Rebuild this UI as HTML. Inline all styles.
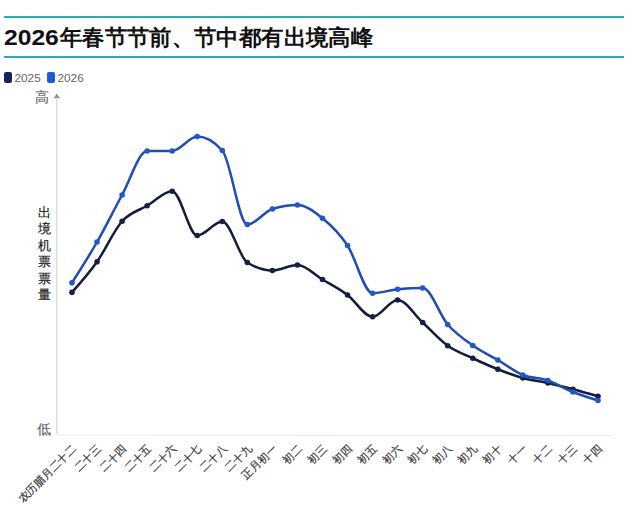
<!DOCTYPE html>
<html><head><meta charset="utf-8"><style>
html,body{margin:0;padding:0;background:#fff;width:640px;height:511px;overflow:hidden;position:relative;font-family:"Liberation Sans",sans-serif}
.tl{position:absolute;left:4px;width:620px;height:2.6px;background:#2cabb1}
.title{position:absolute;top:22.5px;font-weight:bold;color:#111;white-space:nowrap;line-height:30px}
.t1{left:4px;font-size:22px;transform:scaleX(1.12);transform-origin:0 0}
.t2{left:59.5px;font-size:22px;transform:scaleX(1.016);transform-origin:0 0}
.lg{position:absolute;top:71px;font-size:11.8px;color:#666;line-height:14px}
.sw{position:absolute;top:72px;width:8px;height:10.5px;border-radius:2px}
.yl{position:absolute;font-size:14px;color:#666;line-height:16px;-webkit-text-stroke:0.15px #666}
.ax{position:absolute;left:36px;top:205px;width:16px;font-size:13px;color:#222;line-height:16.4px;text-align:center;-webkit-text-stroke:0.2px #222}
text{font-family:"Liberation Sans",sans-serif}
</style></head><body>
<div class="tl" style="top:15.6px"></div>
<div class="tl" style="top:55.8px"></div>
<div class="title t1">2026</div><div class="title t2">年春节节前、节中都有出境高峰</div>
<div class="sw" style="left:4px;background:#13245a"></div>
<div class="lg" style="left:14.5px">2025</div>
<div class="sw" style="left:47px;background:#1a5cd8"></div>
<div class="lg" style="left:57.5px">2026</div>
<div class="yl" style="left:35px;top:88.5px">高</div>
<div class="yl" style="left:37px;top:421px">低</div>
<div class="ax">出<br>境<br>机<br>票<br>票<br>量</div>
<svg width="640" height="511" viewBox="0 0 640 511" style="position:absolute;left:0;top:0">
<line x1="56.8" y1="96" x2="56.8" y2="434" stroke="#d9d9d9" stroke-width="1.3"/>
<path d="M56.8,93.5 L60.2,99 L56.8,97.6 L53.4,99 Z" fill="#888"/>
<line x1="57" y1="435" x2="612" y2="435.5" stroke="#e8e8e8" stroke-width="1"/>
<path d="M72.00,292.30 C80.35,282.92 88.70,273.54 97.05,261.70 C105.40,249.86 113.75,230.57 122.10,221.25 C130.44,211.93 138.79,210.75 147.14,205.75 C155.49,200.75 163.84,191.25 172.19,191.25 C180.54,191.25 188.89,235.50 197.24,235.50 C205.59,235.50 213.94,221.50 222.29,221.50 C230.63,221.50 238.98,257.17 247.33,262.50 C255.68,267.83 264.03,270.50 272.38,270.50 C280.73,270.50 289.08,265.00 297.43,265.00 C305.78,265.00 314.13,274.50 322.48,279.50 C330.83,284.50 339.17,288.79 347.52,295.00 C355.87,301.21 364.22,316.75 372.57,316.75 C380.92,316.75 389.27,300.00 397.62,300.00 C405.97,300.00 414.32,314.88 422.67,322.50 C431.02,330.12 439.37,339.79 447.71,345.75 C456.06,351.71 464.41,354.33 472.76,358.25 C481.11,362.17 489.46,365.96 497.81,369.25 C506.16,372.54 514.51,375.71 522.86,378.00 C531.21,380.29 539.56,381.12 547.90,383.00 C556.25,384.88 564.60,387.04 572.95,389.25 C581.30,391.46 589.65,393.85 598.00,396.25" fill="none" stroke="#131c3c" stroke-width="2.5" stroke-linejoin="round"/>
<circle cx="72.00" cy="292.30" r="2.8" fill="#152046"/>
<circle cx="97.05" cy="261.70" r="2.8" fill="#152046"/>
<circle cx="122.10" cy="221.25" r="2.8" fill="#152046"/>
<circle cx="147.14" cy="205.75" r="2.8" fill="#152046"/>
<circle cx="172.19" cy="191.25" r="2.8" fill="#152046"/>
<circle cx="197.24" cy="235.50" r="2.8" fill="#152046"/>
<circle cx="222.29" cy="221.50" r="2.8" fill="#152046"/>
<circle cx="247.33" cy="262.50" r="2.8" fill="#152046"/>
<circle cx="272.38" cy="270.50" r="2.8" fill="#152046"/>
<circle cx="297.43" cy="265.00" r="2.8" fill="#152046"/>
<circle cx="322.48" cy="279.50" r="2.8" fill="#152046"/>
<circle cx="347.52" cy="295.00" r="2.8" fill="#152046"/>
<circle cx="372.57" cy="316.75" r="2.8" fill="#152046"/>
<circle cx="397.62" cy="300.00" r="2.8" fill="#152046"/>
<circle cx="422.67" cy="322.50" r="2.8" fill="#152046"/>
<circle cx="447.71" cy="345.75" r="2.8" fill="#152046"/>
<circle cx="472.76" cy="358.25" r="2.8" fill="#152046"/>
<circle cx="497.81" cy="369.25" r="2.8" fill="#152046"/>
<circle cx="522.86" cy="378.00" r="2.8" fill="#152046"/>
<circle cx="547.90" cy="383.00" r="2.8" fill="#152046"/>
<circle cx="572.95" cy="389.25" r="2.8" fill="#152046"/>
<circle cx="598.00" cy="396.25" r="2.8" fill="#152046"/>
<path d="M72.00,282.70 C80.35,269.66 88.70,256.62 97.05,242.00 C105.40,227.38 113.75,210.17 122.10,195.00 C130.44,179.83 138.79,151.00 147.14,151.00 C155.49,151.00 163.84,151.00 172.19,151.00 C180.54,151.00 188.89,136.50 197.24,136.50 C205.59,136.50 213.94,141.17 222.29,150.50 C230.63,159.83 238.98,224.50 247.33,224.50 C255.68,224.50 264.03,211.67 272.38,209.00 C280.73,206.33 289.08,205.00 297.43,205.00 C305.78,205.00 314.13,211.50 322.48,218.25 C330.83,225.00 339.17,233.00 347.52,245.50 C355.87,258.00 364.22,293.25 372.57,293.25 C380.92,293.25 389.27,290.08 397.62,289.25 C405.97,288.42 414.32,288.00 422.67,288.00 C431.02,288.00 439.37,314.92 447.71,324.50 C456.06,334.08 464.41,339.58 472.76,345.50 C481.11,351.42 489.46,355.08 497.81,360.00 C506.16,364.92 514.51,371.58 522.86,375.00 C531.21,378.42 539.56,377.67 547.90,380.50 C556.25,383.33 564.60,388.67 572.95,392.00 C581.30,395.33 589.65,397.92 598.00,400.50" fill="none" stroke="#1f4db2" stroke-width="2.5" stroke-linejoin="round"/>
<circle cx="72.00" cy="282.70" r="2.8" fill="#2456c4"/>
<circle cx="97.05" cy="242.00" r="2.8" fill="#2456c4"/>
<circle cx="122.10" cy="195.00" r="2.8" fill="#2456c4"/>
<circle cx="147.14" cy="151.00" r="2.8" fill="#2456c4"/>
<circle cx="172.19" cy="151.00" r="2.8" fill="#2456c4"/>
<circle cx="197.24" cy="136.50" r="2.8" fill="#2456c4"/>
<circle cx="222.29" cy="150.50" r="2.8" fill="#2456c4"/>
<circle cx="247.33" cy="224.50" r="2.8" fill="#2456c4"/>
<circle cx="272.38" cy="209.00" r="2.8" fill="#2456c4"/>
<circle cx="297.43" cy="205.00" r="2.8" fill="#2456c4"/>
<circle cx="322.48" cy="218.25" r="2.8" fill="#2456c4"/>
<circle cx="347.52" cy="245.50" r="2.8" fill="#2456c4"/>
<circle cx="372.57" cy="293.25" r="2.8" fill="#2456c4"/>
<circle cx="397.62" cy="289.25" r="2.8" fill="#2456c4"/>
<circle cx="422.67" cy="288.00" r="2.8" fill="#2456c4"/>
<circle cx="447.71" cy="324.50" r="2.8" fill="#2456c4"/>
<circle cx="472.76" cy="345.50" r="2.8" fill="#2456c4"/>
<circle cx="497.81" cy="360.00" r="2.8" fill="#2456c4"/>
<circle cx="522.86" cy="375.00" r="2.8" fill="#2456c4"/>
<circle cx="547.90" cy="380.50" r="2.8" fill="#2456c4"/>
<circle cx="572.95" cy="392.00" r="2.8" fill="#2456c4"/>
<circle cx="598.00" cy="400.50" r="2.8" fill="#2456c4"/>
<text x="0" y="0" transform="translate(77.00,449) rotate(-45)" text-anchor="end" font-size="11" fill="#3a3a3a" stroke="#3a3a3a" stroke-width="0.2">农历腊月二十二</text>
<text x="0" y="0" transform="translate(102.05,449) rotate(-45)" text-anchor="end" font-size="11" fill="#3a3a3a" stroke="#3a3a3a" stroke-width="0.2">二十三</text>
<text x="0" y="0" transform="translate(127.10,449) rotate(-45)" text-anchor="end" font-size="11" fill="#3a3a3a" stroke="#3a3a3a" stroke-width="0.2">二十四</text>
<text x="0" y="0" transform="translate(152.14,449) rotate(-45)" text-anchor="end" font-size="11" fill="#3a3a3a" stroke="#3a3a3a" stroke-width="0.2">二十五</text>
<text x="0" y="0" transform="translate(177.19,449) rotate(-45)" text-anchor="end" font-size="11" fill="#3a3a3a" stroke="#3a3a3a" stroke-width="0.2">二十六</text>
<text x="0" y="0" transform="translate(202.24,449) rotate(-45)" text-anchor="end" font-size="11" fill="#3a3a3a" stroke="#3a3a3a" stroke-width="0.2">二十七</text>
<text x="0" y="0" transform="translate(227.29,449) rotate(-45)" text-anchor="end" font-size="11" fill="#3a3a3a" stroke="#3a3a3a" stroke-width="0.2">二十八</text>
<text x="0" y="0" transform="translate(252.33,449) rotate(-45)" text-anchor="end" font-size="11" fill="#3a3a3a" stroke="#3a3a3a" stroke-width="0.2">二十九</text>
<text x="0" y="0" transform="translate(277.38,449) rotate(-45)" text-anchor="end" font-size="11" fill="#3a3a3a" stroke="#3a3a3a" stroke-width="0.2">正月初一</text>
<text x="0" y="0" transform="translate(302.43,449) rotate(-45)" text-anchor="end" font-size="11" fill="#3a3a3a" stroke="#3a3a3a" stroke-width="0.2">初二</text>
<text x="0" y="0" transform="translate(327.48,449) rotate(-45)" text-anchor="end" font-size="11" fill="#3a3a3a" stroke="#3a3a3a" stroke-width="0.2">初三</text>
<text x="0" y="0" transform="translate(352.52,449) rotate(-45)" text-anchor="end" font-size="11" fill="#3a3a3a" stroke="#3a3a3a" stroke-width="0.2">初四</text>
<text x="0" y="0" transform="translate(377.57,449) rotate(-45)" text-anchor="end" font-size="11" fill="#3a3a3a" stroke="#3a3a3a" stroke-width="0.2">初五</text>
<text x="0" y="0" transform="translate(402.62,449) rotate(-45)" text-anchor="end" font-size="11" fill="#3a3a3a" stroke="#3a3a3a" stroke-width="0.2">初六</text>
<text x="0" y="0" transform="translate(427.67,449) rotate(-45)" text-anchor="end" font-size="11" fill="#3a3a3a" stroke="#3a3a3a" stroke-width="0.2">初七</text>
<text x="0" y="0" transform="translate(452.71,449) rotate(-45)" text-anchor="end" font-size="11" fill="#3a3a3a" stroke="#3a3a3a" stroke-width="0.2">初八</text>
<text x="0" y="0" transform="translate(477.76,449) rotate(-45)" text-anchor="end" font-size="11" fill="#3a3a3a" stroke="#3a3a3a" stroke-width="0.2">初九</text>
<text x="0" y="0" transform="translate(502.81,449) rotate(-45)" text-anchor="end" font-size="11" fill="#3a3a3a" stroke="#3a3a3a" stroke-width="0.2">初十</text>
<text x="0" y="0" transform="translate(527.86,449) rotate(-45)" text-anchor="end" font-size="11" fill="#3a3a3a" stroke="#3a3a3a" stroke-width="0.2">十一</text>
<text x="0" y="0" transform="translate(552.90,449) rotate(-45)" text-anchor="end" font-size="11" fill="#3a3a3a" stroke="#3a3a3a" stroke-width="0.2">十二</text>
<text x="0" y="0" transform="translate(577.95,449) rotate(-45)" text-anchor="end" font-size="11" fill="#3a3a3a" stroke="#3a3a3a" stroke-width="0.2">十三</text>
<text x="0" y="0" transform="translate(603.00,449) rotate(-45)" text-anchor="end" font-size="11" fill="#3a3a3a" stroke="#3a3a3a" stroke-width="0.2">十四</text>
</svg>
</body></html>
